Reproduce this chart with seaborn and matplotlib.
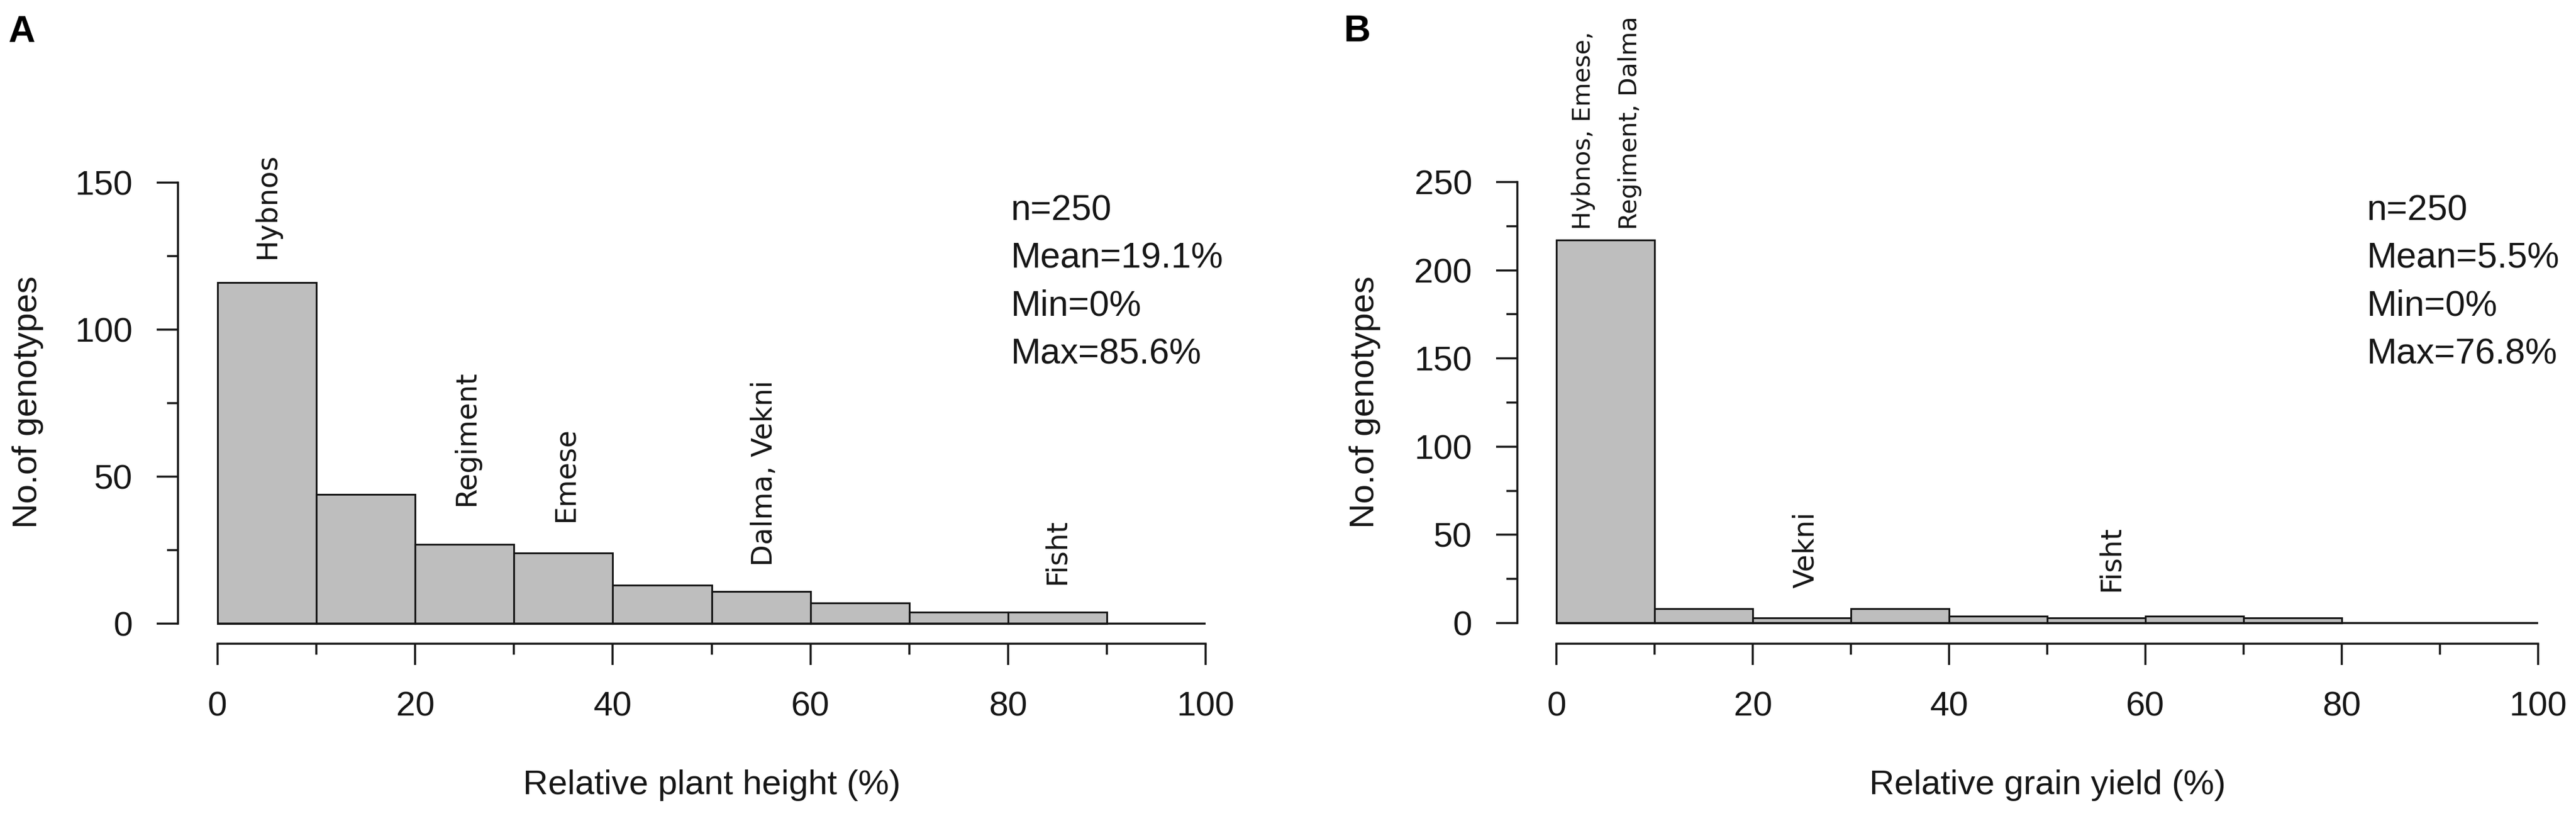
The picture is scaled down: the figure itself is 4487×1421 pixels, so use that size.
import numpy as np
import pandas as pd
import matplotlib
matplotlib.use("Agg")
import matplotlib.pyplot as plt
from matplotlib.ticker import FixedLocator
import seaborn as sns

# ---------------- data ----------------
edges_height = [0, 10, 20, 30, 40, 50, 60, 70, 80, 90]
counts_height = [116, 44, 27, 24, 13, 11, 7, 4, 4]
edges_yield = [0, 10, 20, 30, 40, 50, 60, 70, 80]
counts_yield = [217, 8, 3, 8, 4, 3, 4, 3]

x_major = [0, 20, 40, 60, 80, 100]
x_minor = [10, 30, 50, 70, 90]
y_major_height = [0, 50, 100, 150]
y_minor_height = [25, 75, 125]
y_major_yield = [0, 50, 100, 150, 200, 250]
y_minor_yield = [25, 75, 125, 175, 225]

names_height = ["Hybnos", "Regiment", "Emese", "Dalma, Vekni", "Fisht"]
names_yield = ["Hybnos, Emese,\nRegiment, Dalma", "Vekni", "Fisht"]

stats_height = ["n=250", "Mean=19.1%", "Min=0%", "Max=85.6%"]
stats_yield = ["n=250", "Mean=5.5%", "Min=0%", "Max=76.8%"]

xlabel_height = "Relative plant height (%)"
xlabel_yield = "Relative grain yield (%)"
ylabel = "No.of genotypes"

# ---------------- layout (annotation anchors in data units) ----------------
pos_names_height = [(5.0, 124), (25.2, 40), (35.2, 34.5), (55.3, 19.5), (84.9, 13.3)]
pos_names_yield = [(5.1, 223), (25.4, 19.9), (56.5, 17.9)]

W, H, DPI = 4487, 1421, 300
sns.set_theme(style="ticks")
plt.rcParams["font.family"] = ["Liberation Sans", "DejaVu Sans"]

INK = "#161616"
fig = plt.figure(figsize=(W / DPI, H / DPI), dpi=DPI)
fig.patch.set_facecolor("white")


def px_axes(left, right, top, bottom):
    return fig.add_axes([left / W, 1 - bottom / H, (right - left) / W, (bottom - top) / H])


def style_axes(ax, ymaj, ymin, ylim, xlab):
    ax.set_xlim(-4, 104)
    ax.set_ylim(*ylim)
    for s in ["top", "right"]:
        ax.spines[s].set_visible(False)
    ax.spines["left"].set_bounds(ymaj[0], ymaj[-1])
    ax.spines["bottom"].set_bounds(x_major[0], x_major[-1])
    for s in ["left", "bottom"]:
        ax.spines[s].set_linewidth(0.85)
        ax.spines[s].set_color(INK)
    ax.xaxis.set_major_locator(FixedLocator(x_major))
    ax.xaxis.set_minor_locator(FixedLocator(x_minor))
    ax.yaxis.set_major_locator(FixedLocator(ymaj))
    ax.yaxis.set_minor_locator(FixedLocator(ymin))
    ax.set_xticklabels([str(v) for v in x_major])
    ax.set_yticklabels([str(v) for v in ymaj])
    ax.tick_params(axis="both", which="major", direction="out", length=8.9, width=0.85,
                   color=INK, labelsize=14.5, labelcolor=INK)
    ax.tick_params(axis="both", which="minor", direction="out", length=4.6, width=0.85, color=INK)
    ax.tick_params(axis="y", which="major", pad=10)
    ax.tick_params(axis="x", which="major", pad=11)
    ax.set_xlabel(xlab, fontsize=14.5, color=INK, va="center")
    ax.set_ylabel(ylabel, fontsize=14.5, color=INK, va="center")
    ax.hlines(0, x_major[0], x_major[-1], color=INK, linewidth=0.85, zorder=3)
    ax.grid(False)
    ax.set_facecolor("white")


def draw_hist(ax, edges, counts):
    centers = [(a + b) / 2 for a, b in zip(edges[:-1], edges[1:])]
    df = pd.DataFrame({"x": centers, "n": counts})
    sns.histplot(data=df, x="x", weights="n", bins=edges, ax=ax, color="#BEBEBE",
                 edgecolor=INK, linewidth=0.75, alpha=1.0, legend=False)


# ---------------- panel A ----------------
axA = px_axes(310, 2169, 189, 1121)
draw_hist(axA, edges_height, counts_height)
style_axes(axA, y_major_height, y_minor_height, (-6.84, 175.2), xlabel_height)
axA.yaxis.set_label_coords(-0.1404, 0.4517)
axA.xaxis.set_label_coords(0.5, -0.265)
for name, (x, y) in zip(names_height, pos_names_height):
    axA.text(x, y, name, rotation=90, ha="center", va="bottom", fontsize=11.8,
             family=["DejaVu Sans"], color=INK)
axA.text(0.7805, 0.8412, "\n".join(stats_height), transform=axA.transAxes, ha="left",
         va="top", fontsize=15, linespacing=1.53, color=INK)

# ---------------- panel B ----------------
axB = px_axes(2643, 4489, 189, 1121)
draw_hist(axB, edges_yield, counts_yield)
style_axes(axB, y_major_yield, y_minor_yield, (-11.72, 291.7), xlabel_yield)
axB.yaxis.set_label_coords(-0.1436, 0.4517)
axB.xaxis.set_label_coords(0.5, -0.265)
for i, (name, (x, y)) in enumerate(zip(names_yield, pos_names_yield)):
    multi = "\n" in name
    axB.text(x, y, name, rotation=90, ha="center", va="bottom",
             fontsize=10.3 if multi else 11.8, linespacing=2.2 if multi else 1.2,
             multialignment="left", family=["DejaVu Sans"], color=INK)
axB.text(0.8017, 0.8412, "\n".join(stats_yield), transform=axB.transAxes, ha="left",
         va="top", fontsize=15, linespacing=1.53, color=INK)

# ---------------- panel letters ----------------
fig.text(14 / W, 1 - 26 / H, "A", ha="left", va="top", fontsize=15.5, fontweight="bold",
         color="black")
fig.text(2341 / W, 1 - 25 / H, "B", ha="left", va="top", fontsize=15.5, fontweight="bold",
         color="black")

fig.savefig("out.png", dpi=DPI, facecolor="white")
